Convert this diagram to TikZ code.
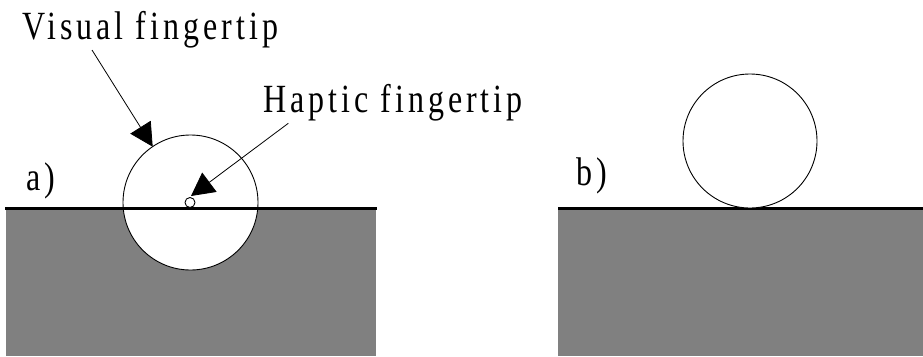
\documentclass[tikz,border=0pt]{standalone}
\usepackage{fontspec}
\newfontfamily\labfont{Liberation Serif}[FakeStretch=0.8,LetterSpace=10,Ligatures=NoCommon]
\usetikzlibrary{arrows.meta}
\begin{document}
\begin{tikzpicture}[x=1pt,y=-1pt,
  lab/.style={inner sep=0pt,anchor=base west,font=\labfont\fontsize{40}{40}\selectfont},
  ground/.style={fill=black!50,draw=none},
  surf/.style={line width=3pt},
  tipcircle/.style={draw=black,fill=white,line width=0.9pt},
  pointer/.style={line width=0.8pt,-{Triangle[length=23pt,width=24pt]}}]
\useasboundingbox (0,0) rectangle (923,356);
% panel a
\fill[ground] (6,209) rectangle (376,356);
\draw[surf] (5,208.5) -- (377,208.5);
\node[tipcircle,circle,minimum size=135pt,inner sep=0pt] (vis) at (190.5,202.5) {};
\draw[surf] (123,208.5) -- (258,208.5);
\node[tipcircle,circle,minimum size=10pt,inner sep=0pt] (hap) at (190,202.5) {};
\node[lab] (tvis) at (22,39) {Visual fingertip};
\node[lab] (thap) at (263,112) {Haptic fingertip};
\node[lab] (la) at (26,190) {a)};
\coordinate (s1) at (92,50);
\coordinate (e1) at (152.7,146.7);
\coordinate (s2) at (288.3,123.3);
\coordinate (e2) at (191,196);
\draw[pointer] (s1) -- (e1);
\draw[pointer] (s2) -- (e2);
% panel b
\fill[ground] (558,209) rectangle (923,356);
\draw[surf] (558,208.5) -- (923,208.5);
\node[tipcircle,circle,minimum size=134pt,inner sep=0pt] (ball) at (750,141) {};
\node[lab] (lb) at (576,185) {b)};
\end{tikzpicture}
\end{document}
